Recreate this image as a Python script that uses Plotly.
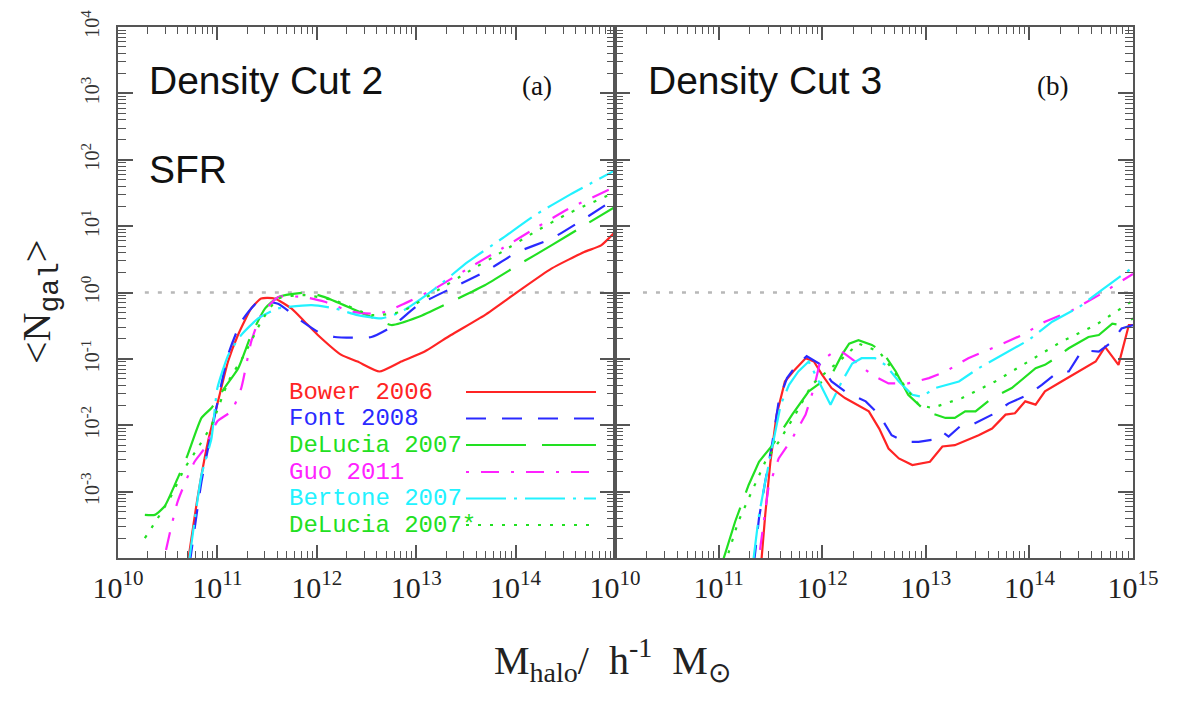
import plotly.graph_objects as go

W, H = 1177, 701

# ---------------- DATA (log10 M_halo, log10 <N_gal>) ----------------
models = ["Bower 2006", "Font 2008", "DeLucia 2007", "Guo 2011", "Bertone 2007", "DeLucia 2007*"]

# Panel (a): Density Cut 2, SFR
bower_a_logm = [10.70, 10.80, 10.905, 11.006, 11.107, 11.207, 11.34, 11.44, 11.576, 11.744, 11.878, 12.01,
                12.247, 12.41, 12.63, 12.85, 13.085, 13.35, 13.69, 14.02, 14.36, 14.69, 14.86, 15.0]
bower_a_logn = [-4.10, -3.10, -2.25, -1.64, -1.04, -0.64, -0.24, -0.09, -0.09, -0.24, -0.44, -0.64,
                -0.94, -1.04, -1.19, -1.04, -0.89, -0.64, -0.34, 0.01, 0.36, 0.61, 0.71, 0.91]

font_a_logm = [10.72, 10.84, 10.94, 11.107, 11.24, 11.41, 11.61, 11.81, 12.01, 12.18, 12.55, 12.75,
               13.02, 13.35, 13.69, 14.02, 14.36, 14.69, 15.0]
font_a_logn = [-4.10, -2.85, -2.10, -0.94, -0.44, -0.14, -0.17, -0.39, -0.59, -0.67, -0.67, -0.52,
               -0.19, 0.06, 0.31, 0.61, 0.81, 1.11, 1.41]

delucia_a_logm = [10.27, 10.37, 10.47, 10.60, 10.70, 10.84, 10.94, 11.07, 11.21, 11.34, 11.48, 11.61,
                  11.91, 12.08, 12.35, 12.58, 12.75, 13.02, 13.35, 13.69, 14.02, 14.36, 14.69, 15.0]
delucia_a_logn = [-3.35, -3.35, -3.22, -2.80, -2.45, -1.89, -1.74, -1.44, -1.14, -0.64, -0.24, -0.07,
                  0.00, -0.07, -0.24, -0.39, -0.49, -0.37, -0.14, 0.11, 0.41, 0.71, 1.01, 1.29]

guo_a_logm = [10.45, 10.60, 10.77, 10.87, 11.00, 11.14, 11.24, 11.34, 11.44, 11.61, 11.88, 12.08,
              12.35, 12.62, 12.85, 13.19, 13.52, 13.86, 14.19, 14.53, 15.0]
guo_a_logn = [-4.10, -3.15, -2.55, -2.35, -1.94, -1.79, -1.44, -0.74, -0.34, -0.07, -0.07, -0.14,
              -0.29, -0.32, -0.19, 0.06, 0.36, 0.66, 0.96, 1.26, 1.59]

bertone_a_logm = [10.71, 10.84, 10.94, 11.00, 11.11, 11.24, 11.41, 11.61, 11.95, 12.18, 12.41, 12.65,
                  12.85, 13.19, 13.52, 13.86, 14.19, 14.53, 15.0]
bertone_a_logn = [-4.10, -2.75, -2.20, -1.44, -0.94, -0.64, -0.39, -0.24, -0.19, -0.24, -0.34, -0.39,
                  -0.29, 0.06, 0.46, 0.81, 1.16, 1.46, 1.84]

delstar_a_logm = [10.27, 10.40, 10.54, 10.67, 10.80, 10.94, 11.11, 11.27, 11.44, 11.61, 11.88, 12.18,
                  12.55, 12.85, 13.19, 13.52, 13.86, 14.19, 14.53, 15.0]
delstar_a_logn = [-3.70, -3.40, -3.05, -2.65, -2.35, -2.00, -1.34, -0.94, -0.44, -0.09, -0.04, -0.12,
                  -0.34, -0.29, 0.01, 0.31, 0.61, 0.91, 1.19, 1.51]

# Panel (b): Density Cut 3
bower_b_logm = [11.41, 11.45, 11.50, 11.56, 11.64, 11.72, 11.84, 11.92, 12.00, 12.09, 12.22, 12.45,
                12.55, 12.64, 12.74, 12.87, 13.04, 13.16, 13.28, 13.51, 13.64, 13.77, 13.86, 13.96,
                14.06, 14.15, 14.31, 14.48, 14.64, 14.73, 14.86, 14.96, 15.0]
bower_b_logn = [-4.10, -3.35, -2.55, -1.84, -1.34, -1.19, -0.99, -1.04, -1.24, -1.44, -1.59, -1.79,
                -2.05, -2.35, -2.50, -2.60, -2.55, -2.32, -2.30, -2.15, -2.05, -1.84, -1.82, -1.64,
                -1.69, -1.49, -1.34, -1.19, -1.04, -0.82, -1.09, -0.49, -0.49]

font_b_logm = [11.34, 11.39, 11.45, 11.52, 11.58, 11.66, 11.74, 11.85, 11.97, 12.09, 12.22, 12.42,
               12.55, 12.67, 12.80, 12.93, 13.06, 13.16, 13.22, 13.35, 13.45, 13.64, 13.80, 13.99,
               14.12, 14.28, 14.38, 14.51, 14.67, 14.80, 14.89, 15.0]
font_b_logn = [-4.10, -3.40, -2.85, -2.25, -1.64, -1.29, -1.12, -0.96, -1.07, -1.34, -1.49, -1.64,
               -1.84, -2.15, -2.25, -2.25, -2.22, -2.10, -2.17, -1.99, -1.99, -1.84, -1.67, -1.54,
               -1.39, -1.19, -1.19, -0.87, -0.89, -0.74, -0.54, -0.49]

delucia_b_logm = [11.03, 11.16, 11.29, 11.39, 11.52, 11.71, 11.87, 12.09, 12.19, 12.26, 12.35, 12.48,
                  12.58, 12.71, 12.83, 13.00, 13.19, 13.28, 13.38, 13.48, 13.64, 13.83, 14.06, 14.15,
                  14.25, 14.38, 14.57, 14.67, 14.80, 14.89, 15.0]
delucia_b_logn = [-4.10, -3.45, -2.90, -2.55, -2.30, -1.84, -1.49, -1.24, -0.94, -0.77, -0.72, -0.79,
                  -0.89, -1.19, -1.54, -1.79, -1.89, -1.89, -1.79, -1.79, -1.59, -1.44, -1.14, -1.09,
                  -0.99, -0.84, -0.67, -0.64, -0.47, -0.49, -0.39]

guo_b_logm = [11.38, 11.48, 11.58, 11.71, 11.84, 11.92, 11.98, 12.09, 12.19, 12.32, 12.48, 12.64,
              12.83, 13.03, 13.19, 13.41, 13.67, 13.93, 14.15, 14.41, 14.67, 15.0]
guo_b_logn = [-4.10, -2.95, -2.50, -2.20, -1.84, -1.44, -1.04, -0.92, -0.89, -1.04, -1.24, -1.37,
              -1.37, -1.29, -1.19, -0.99, -0.82, -0.64, -0.44, -0.27, -0.04, 0.28]

bertone_b_logm = [11.33, 11.39, 11.45, 11.53, 11.60, 11.68, 11.77, 11.87, 11.97, 12.08, 12.19, 12.29,
                  12.38, 12.51, 12.61, 12.74, 12.87, 12.96, 13.09, 13.25, 13.32, 13.51, 13.74, 13.99,
                  14.22, 14.48, 14.70, 15.0]
bertone_b_logn = [-4.10, -3.35, -2.85, -2.25, -1.69, -1.39, -1.19, -1.04, -1.34, -1.69, -1.34, -1.07,
                  -0.99, -0.99, -1.09, -1.34, -1.54, -1.57, -1.44, -1.37, -1.34, -1.14, -0.94, -0.72,
                  -0.44, -0.22, 0.04, 0.38]

delstar_b_logm = [11.06, 11.19, 11.32, 11.45, 11.58, 11.74, 11.90, 11.97, 12.16, 12.35, 12.55, 12.74,
                  12.93, 13.06, 13.35, 13.67, 13.99, 14.31, 14.64, 15.0]
delstar_b_logn = [-4.10, -3.45, -3.00, -2.55, -2.25, -1.84, -1.39, -1.29, -1.04, -0.77, -0.89, -1.29,
                  -1.69, -1.74, -1.59, -1.34, -1.04, -0.74, -0.49, -0.12]

unity_line_logm = [10.27, 15.0]
unity_line_logn = [0.0, 0.0]

x_tick_exp = [10, 11, 12, 13, 14, 15]
y_tick_exp = [-4, -3, -2, -1, 0, 1, 2, 3, 4]
panel_titles = ["Density Cut 2", "Density Cut 3"]
panel_letters = ["(a)", "(b)"]
panel_a_extra = "SFR"

# ---------------- STYLE ----------------
colors = ["#ff2424", "#2a2aff", "#22e022", "#ff22ff", "#22f2ff", "#22e022"]
dashes = ["solid", "20px,16px", "60px,16px", "3px,12px,18px,12px", "40px,8px,3px,8px", "3px,9px"]
LW = 2.2
AX = "#555555"
SERIF = "Liberation Serif"
SANS = "Liberation Sans"
MONO = "Liberation Mono"
OFF = 8  # page body margin of the html page


def px_x(p):
    return (p - OFF) / W


def px_y(p):
    return 1 - (p - OFF) / H


series_a = [(bower_a_logm, bower_a_logn), (font_a_logm, font_a_logn), (delucia_a_logm, delucia_a_logn),
            (guo_a_logm, guo_a_logn), (bertone_a_logm, bertone_a_logn), (delstar_a_logm, delstar_a_logn)]
series_b = [(bower_b_logm, bower_b_logn), (font_b_logm, font_b_logn), (delucia_b_logm, delucia_b_logn),
            (guo_b_logm, guo_b_logn), (bertone_b_logm, bertone_b_logn), (delstar_b_logm, delstar_b_logn)]

fig = go.Figure()

for xa, ya, series, shape in [("x", "y", series_a, "spline"), ("x2", "y2", series_b, "linear")]:
    fig.add_trace(go.Scatter(
        x=[10 ** v for v in unity_line_logm], y=[10 ** v for v in unity_line_logn],
        xaxis=xa, yaxis=ya, mode="lines", showlegend=False, hoverinfo="skip",
        line=dict(color="#b8b8b8", width=2.5, dash="4px,9px")))
    for i, (lm, ln) in enumerate(series):
        fig.add_trace(go.Scatter(
            x=[10 ** v for v in lm], y=[10 ** v for v in ln], xaxis=xa, yaxis=ya,
            mode="lines", name=models[i], showlegend=False,
            line=dict(color=colors[i], width=LW, dash=dashes[i], shape=shape,
                      smoothing=0.5 if shape == "spline" else None)))

x_ticks = [10.0 ** e for e in x_tick_exp]
y_ticks = [10.0 ** e for e in y_tick_exp]
x_minor = [m * 10.0 ** e for e in x_tick_exp[:-1] for m in range(2, 10)]
y_minor = [m * 10.0 ** e for e in y_tick_exp[:-1] for m in range(2, 10)]


def lab(e, sz=None):
    if sz:
        return "10<sup><span style='font-size:%dpx'>%d</span></sup>" % (sz, e)
    return "10<sup>%d</sup>" % e


xt_a = [lab(e, 21) for e in x_tick_exp[:-1]] + [""]
xt_b = [lab(e, 21) for e in x_tick_exp]
yt_a = [""] + [lab(e, 15) for e in y_tick_exp[1:]]

common_x = dict(type="log", range=[10, 15], tickmode="array", tickvals=x_ticks,
                ticks="inside", ticklen=13, tickwidth=1.5, tickcolor=AX,
                showline=True, linecolor=AX, linewidth=2, mirror="allticks",
                showgrid=False, zeroline=False, ticklabelstandoff=2, automargin=False,
                tickfont=dict(family=SERIF, size=30, color="#222"),
                minor=dict(ticks="inside", ticklen=7, tickwidth=1.2, tickcolor=AX,
                           tickvals=x_minor, showgrid=False))
common_y = dict(type="log", range=[-4, 4], tickmode="array", tickvals=y_ticks,
                ticks="inside", ticklen=15, tickwidth=1.5, tickcolor=AX,
                showline=True, linecolor=AX, linewidth=2, mirror="allticks",
                showgrid=False, zeroline=False, domain=[px_y(558), px_y(27)], automargin=False,
                minor=dict(ticks="inside", ticklen=8, tickwidth=1.2, tickcolor=AX,
                           tickvals=y_minor, showgrid=False))

fig.update_layout(
    width=W, height=H, margin=dict(l=0, r=0, t=0, b=0, pad=0), autosize=False,
    paper_bgcolor="white", plot_bgcolor="white", showlegend=False,
    xaxis=dict(common_x, domain=[px_x(118), px_x(615)], anchor="y", ticktext=xt_a),
    xaxis2=dict(common_x, domain=[px_x(615), px_x(1133)], anchor="y2", ticktext=xt_b),
    yaxis=dict(common_y, anchor="x", ticktext=yt_a, tickangle=-90, ticklabelstandoff=9,
               tickfont=dict(family=SERIF, size=20, color="#333")),
    yaxis2=dict(common_y, anchor="x2", showticklabels=False),
)

ann = []
ann.append(dict(text=panel_titles[0], x=px_x(147), y=px_y(81), xanchor="left", yanchor="middle",
                font=dict(family=SANS, size=39, color="#111")))
ann.append(dict(text=panel_a_extra, x=px_x(147), y=px_y(169), xanchor="left", yanchor="middle",
                font=dict(family=SANS, size=39, color="#111")))
ann.append(dict(text=panel_titles[1], x=px_x(646), y=px_y(81), xanchor="left", yanchor="middle",
                font=dict(family=SANS, size=39, color="#111")))
ann.append(dict(text=panel_letters[0], x=px_x(537), y=px_y(86), xanchor="center", yanchor="middle",
                font=dict(family=SERIF, size=27, color="#111")))
ann.append(dict(text=panel_letters[1], x=px_x(1052), y=px_y(86), xanchor="center", yanchor="middle",
                font=dict(family=SERIF, size=27, color="#111")))
ann.append(dict(text="&lt;N<sub><span style='font-family:Liberation Mono'>gal</span></sub>&gt;",
                x=px_x(40), y=px_y(302), textangle=-90, xanchor="center", yanchor="middle",
                font=dict(family=SERIF, size=40, color="#222")))
ann.append(dict(text="M<sub>halo</sub>/&nbsp;&nbsp;h<sup>-1</sup>&nbsp;&nbsp;M<sub>⊙</sub>",
                x=px_x(612), y=px_y(660), xanchor="center", yanchor="middle",
                font=dict(family=SERIF, size=40, color="#222")))

shapes = []
leg_y = [392, 418.5, 445, 472, 498.5, 525]
for i, name in enumerate(models):
    ann.append(dict(text=name, x=px_x(287), y=px_y(leg_y[i]), xanchor="left", yanchor="middle",
                    font=dict(family=MONO, size=24, color=colors[i])))
    shapes.append(dict(type="line", xref="paper", yref="paper",
                       x0=px_x(466), x1=px_x(596), y0=px_y(leg_y[i]), y1=px_y(leg_y[i]),
                       line=dict(color=colors[i], width=LW, dash=dashes[i])))

for a in ann:
    a.update(xref="paper", yref="paper", showarrow=False)
fig.update_layout(annotations=ann, shapes=shapes)

fig.write_html("out.html")
